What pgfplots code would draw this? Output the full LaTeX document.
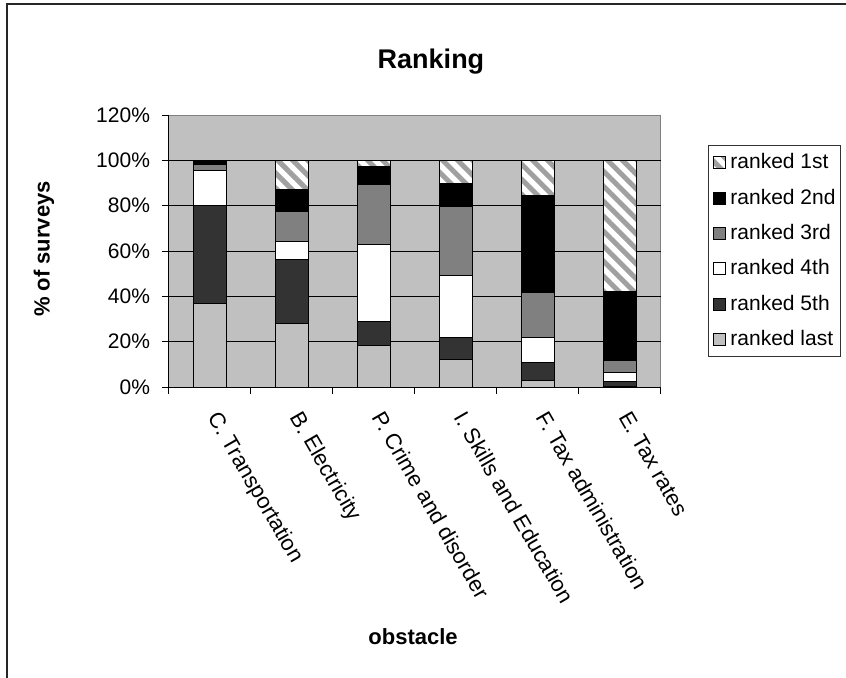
\documentclass[border=0pt]{standalone}
\usepackage{pgfplots}
\pgfplotsset{compat=1.18}
\usepackage{fontspec}
\setmainfont{Liberation Sans}
\usetikzlibrary{patterns.meta}

\definecolor{silverbg}{HTML}{C0C0C0}
\definecolor{rkthird}{HTML}{808080}
\definecolor{rkfifth}{HTML}{333333}
\definecolor{stripe}{HTML}{A0A0A0}

\begin{document}
\begin{tikzpicture}
\path[use as bounding box] (-84.5pt,-145pt) rectangle (338.5pt,193.5pt);
\draw[line width=1pt, black!85] (-81pt,-150pt) -- (-81pt,191.5pt) -- (345pt,191.5pt);
\begin{axis}[
    at={(0pt,0pt)}, anchor=south west,
    width=246pt, height=136pt, scale only axis,
    xmin=-0.5, xmax=5.5, ymin=0, ymax=120,
    ybar stacked, bar width=16.5pt,
    area legend,
    legend image code/.code={\path (0pt,0pt); \draw[#1] (2pt,-3pt) rectangle (8pt,3pt);},
    axis x line*=bottom, axis y line*=left,
    axis line style={black, line width=0.5pt},
    axis background/.style={fill=silverbg, draw=rkthird, line width=0.5pt},
    tick align=outside, major tick length=3.5pt,
    tick style={black, line width=0.5pt},
    tick label style={font=\fontsize{10.5}{12.6}\selectfont},
    ytick={0,20,40,60,80,100},
    yticklabels={0\%,20\%,40\%,60\%,80\%,100\%},
    extra y ticks={120}, extra y tick labels={120\%},
    extra y tick style={grid=none},
    yticklabel style={xshift=-2.5pt},
    ymajorgrids, grid style={black, line width=0.5pt},
    xtick={-0.5,0.5,1.5,2.5,3.5,4.5,5.5}, xticklabels={},
    extra x ticks={0,1,2,3,4,5},
    extra x tick labels={C. Transportation, B. Electricity, P. Crime and disorder, I. Skills and Education, F. Tax administration, E. Tax rates},
    extra x tick style={major tick length=0pt, grid=none,
        xticklabel style={font=\fontsize{11}{13}\selectfont,
            xshift=7pt, yshift=-6.5pt, rotate=-60, anchor=north west}},
    title={Ranking},
    title style={at={(axis description cs:0.5325,1.154)}, anchor=center,
        font=\bfseries\fontsize{13.5}{16}\selectfont},
    ylabel={\% of surveys},
    ylabel style={at={(axis description cs:-0.254,0.507)}, anchor=center,
        font=\bfseries\fontsize{11}{13}\selectfont},
    xlabel={obstacle},
    xlabel style={at={(axis description cs:0.496,-0.917)}, anchor=center,
        font=\bfseries\fontsize{11}{13}\selectfont},
    legend style={at={(axis description cs:1.0955,0.8897)}, anchor=north west,
        draw=black!80, line width=0.5pt, font=\fontsize{10.5}{12.6}\selectfont,
        row sep=4.6pt, inner xsep=0.5pt, inner ysep=2pt},
    legend cell align=left,
    reverse legend,
    every axis plot/.append style={draw=black, line width=0.5pt},
]
% stacked from the bottom: ranked last ... ranked 1st
\addplot[fill=silverbg] coordinates {(0,37) (1,28) (2,18.2) (3,12.3) (4,2.8) (5,0.4)};
\addplot[fill=rkfifth] coordinates {(0,43) (1,28.2) (2,10.6) (3,9.7) (4,8.2) (5,1.9)};
\addplot[fill=white] coordinates {(0,15.3) (1,8.1) (2,34) (3,27.3) (4,10.9) (5,3.9)};
\addplot[fill=rkthird] coordinates {(0,2.8) (1,13.2) (2,26.5) (3,30.3) (4,19.8) (5,5.3)};
\addplot[fill=black] coordinates {(0,1.4) (1,9.7) (2,8.1) (3,10.3) (4,42.9) (5,30.8)};
\addplot[fill=white, postaction={pattern={Lines[angle=-45,distance=5.3pt,line width=2.5pt]}, pattern color=stripe}]
    coordinates {(0,0.5) (1,12.8) (2,2.6) (3,10.1) (4,15.4) (5,57.7)};
\legend{ranked last, ranked 5th, ranked 4th, ranked 3rd, ranked 2nd, ranked 1st}
\end{axis}
\end{tikzpicture}
\end{document}
